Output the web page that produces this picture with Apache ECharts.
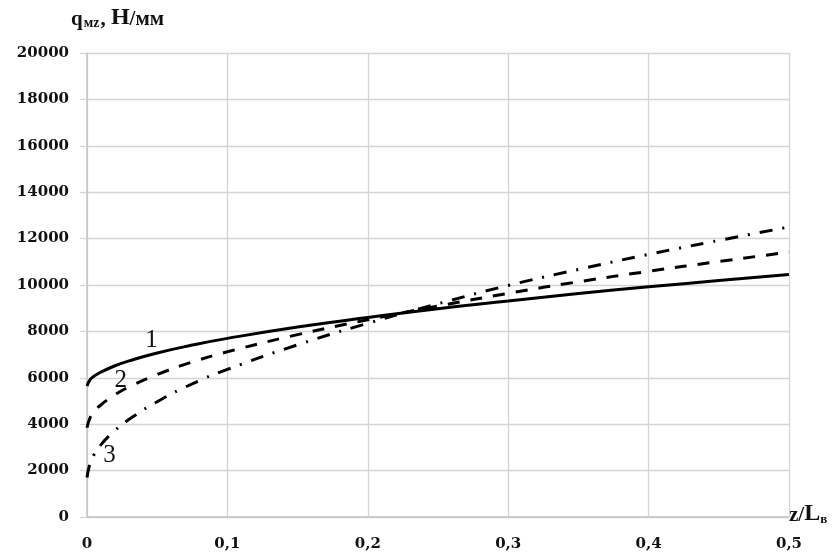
<!DOCTYPE html>
<html>
<head>
<meta charset="utf-8">
<script src="https://cdn.jsdelivr.net/npm/echarts@6/dist/echarts.min.js"></script>
<style>
  html, body { margin: 0; padding: 0; background: #fff; }
  #chart { width: 840px; height: 555px; }
</style>
</head>
<body>
<div id="chart"></div>
<script>
// Relative position along the shaft, z/Lв
const zValues = [0, 0.0025, 0.005, 0.01, 0.02, 0.03, 0.05, 0.075, 0.1, 0.15, 0.2, 0.25, 0.3, 0.35, 0.4, 0.45, 0.5];
// Distributed load q_мz, Н/мм, for the three cases
const curve1 = [5650, 5940, 6070, 6250, 6520, 6730, 7070, 7410, 7700, 8190, 8600, 8980, 9310, 9630, 9920, 10190, 10450];
const curve2 = [3850, 4330, 4540, 4840, 5270, 5610, 6140, 6680, 7120, 7860, 8500, 9090, 9640, 10140, 10590, 11010, 11420];
const curve3 = [1700, 2390, 2690, 3120, 3730, 4210, 4970, 5740, 6360, 7420, 8350, 9190, 9980, 10670, 11320, 11920, 12500];
// Curve number tags: [z, q, text]
const curveTags = [[0.046, 7630, '1'], [0.024, 5900, '2'], [0.016, 2670, '3']];
const xTicks = ['0', '0,1', '0,2', '0,3', '0,4', '0,5'];

const pairs = ys => zValues.map((z, i) => [z, ys[i]]);
const tagPoint = t => ({
  markPoint: {
    symbol: 'circle', symbolSize: 0, silent: true,
    label: {
      show: true, position: 'inside', formatter: t[2],
      fontFamily: 'Liberation Serif', fontSize: 25, color: '#111'
    },
    data: [{ coord: [t[0], t[1]] }]
  }
});

const serif = 'DejaVu Serif';
const gridColor = '#d4d4d4';

const chart = echarts.init(document.getElementById('chart'), null, { renderer: 'canvas' });
chart.setOption({
  backgroundColor: '#fff',
  animation: false,
  grid: { left: 87, right: 51, top: 53, bottom: 38, containLabel: false },
  xAxis: {
    type: 'value', min: 0, max: 0.5, interval: 0.1,
    axisLine: { show: true, lineStyle: { color: '#c4c4c4', width: 1.5 } },
    axisTick: { show: false },
    splitLine: { show: true, lineStyle: { color: gridColor, width: 1.3 } },
    axisLabel: {
      margin: 20, fontFamily: serif, fontWeight: 'bold', fontSize: 15, color: '#111',
      formatter: v => xTicks[Math.round(v * 10)]
    }
  },
  yAxis: {
    type: 'value', min: 0, max: 20000, interval: 2000,
    axisLine: { show: true, lineStyle: { color: '#c4c4c4', width: 1.5 } },
    axisTick: { show: true, length: 7, lineStyle: { color: gridColor, width: 1.3 } },
    splitLine: { show: true, lineStyle: { color: gridColor, width: 1.3 } },
    axisLabel: {
      margin: 18, fontFamily: serif, fontWeight: 'bold', fontSize: 15, color: '#111',
      formatter: v => String(v)
    }
  },
  series: [
    Object.assign({
      type: 'line', smooth: true, symbol: 'none', data: pairs(curve1),
      lineStyle: { color: '#000', width: 3, type: 'solid' }
    }, tagPoint(curveTags[0])),
    Object.assign({
      type: 'line', smooth: true, symbol: 'none', data: pairs(curve2),
      lineStyle: { color: '#000', width: 3, type: [12, 11] }
    }, tagPoint(curveTags[1])),
    Object.assign({
      type: 'line', smooth: true, symbol: 'none', data: pairs(curve3),
      lineStyle: { color: '#000', width: 3, type: [13, 10, 2, 10] }
    }, tagPoint(curveTags[2]))
  ],
  graphic: [
    {
      type: 'text', left: 71, top: 6,
      style: {
        text: '{a|q}{s|мz}{a|, }{h|Н}{a|/мм}',
        rich: {
          a: { fontFamily: 'Liberation Serif', fontWeight: 'bold', fontSize: 21, fill: '#111', verticalAlign: 'bottom' },
          h: { fontFamily: 'Liberation Serif', fontWeight: 'bold', fontSize: 24, fill: '#111', verticalAlign: 'bottom' },
          s: { fontFamily: 'Liberation Serif', fontWeight: 'bold', fontSize: 14, fill: '#111', verticalAlign: 'bottom', padding: [0, 1, 0, 1] }
        }
      }
    },
    {
      type: 'text', left: 789, top: 502,
      style: {
        text: '{a|z/}{h|L}{s|в}',
        rich: {
          a: { fontFamily: 'Liberation Serif', fontWeight: 'bold', fontSize: 21, fill: '#111', verticalAlign: 'bottom' },
          h: { fontFamily: 'Liberation Serif', fontWeight: 'bold', fontSize: 24, fill: '#111', verticalAlign: 'bottom' },
          s: { fontFamily: 'Liberation Serif', fontWeight: 'bold', fontSize: 13, fill: '#111', verticalAlign: 'bottom' }
        }
      }
    }
  ]
});
</script>
</body>
</html>
